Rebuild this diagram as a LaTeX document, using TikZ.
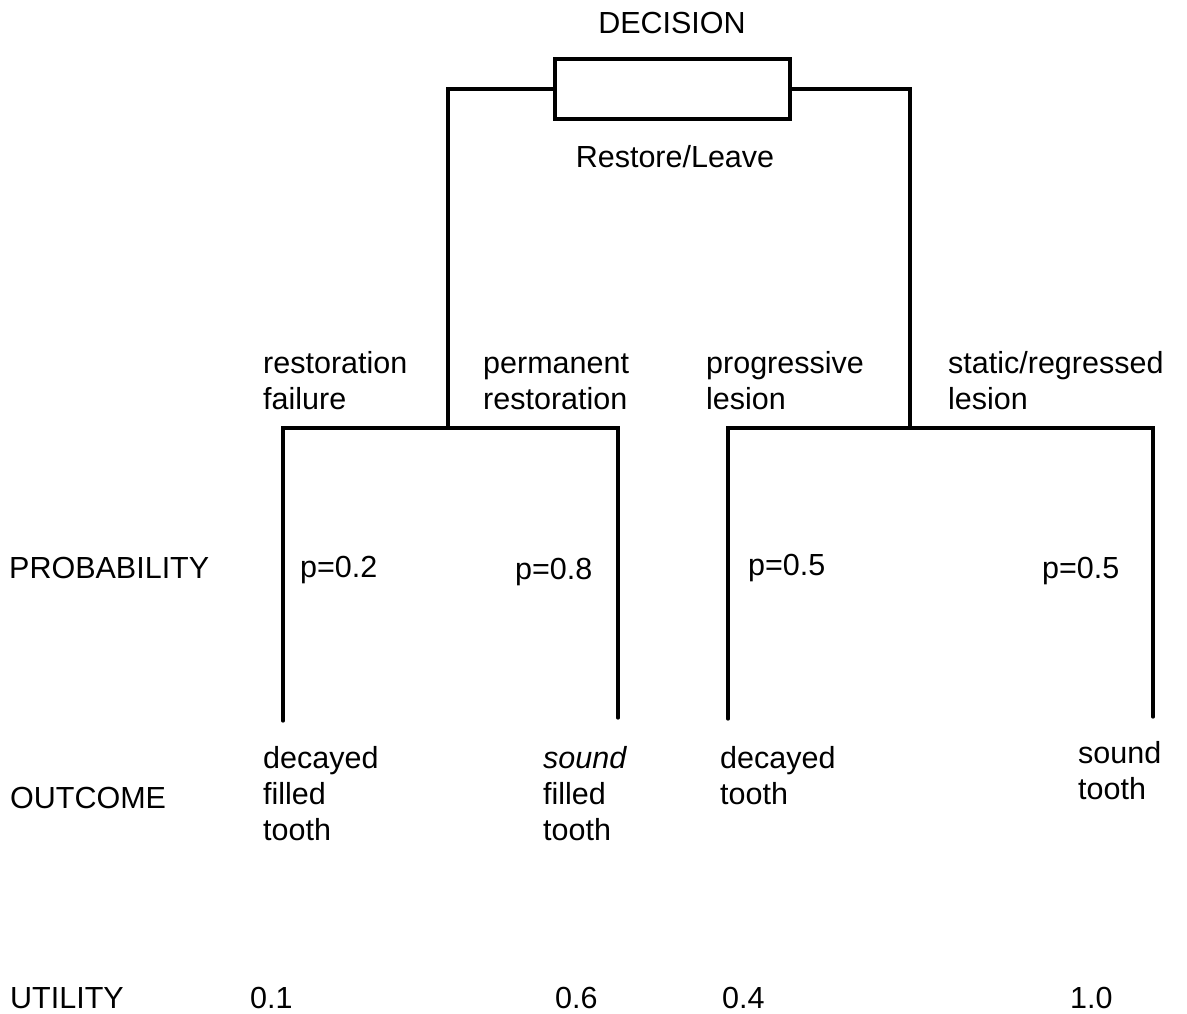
\documentclass[tikz,border=0pt]{standalone}
\usepackage{fontspec}
\setmainfont{Liberation Sans}
\begin{document}
\begin{tikzpicture}[x=1pt,y=-1pt,
  lbl/.style={font=\fontsize{30.5}{36}\selectfont, inner sep=0pt, align=left, anchor=base west},
  branch/.style={line width=3.2pt, line cap=round, line join=miter}]
\useasboundingbox (0,0) rectangle (1187,1013);
% decision box
\node[draw, line width=3.2pt, minimum width=235pt, minimum height=60pt, inner sep=0pt] (dec) at (672.5,89) {};
\node[lbl, anchor=base] (dectitle) at (672,33) {DECISION};
\node[lbl, anchor=base] (declbl) at (675,167) {Restore/Leave};
% junctions
\coordinate (lt) at (448,89);
\coordinate (lj) at (448,428);
\coordinate (rt) at (910,89);
\coordinate (rj) at (910,428);
\coordinate (l1t) at (283,428);
\coordinate (l1b) at (283,721);
\coordinate (l2t) at (618,428);
\coordinate (l2b) at (618,718);
\coordinate (r1t) at (728,428);
\coordinate (r1b) at (728,719);
\coordinate (r2t) at (1153,428);
\coordinate (r2b) at (1153,717);
\draw[branch] (dec.west) -- (lt) -- (lj);
\draw[branch] (dec.east) -- (rt) -- (rj);
\draw[branch] (l1b) -- (l1t) -- (l2t) -- (l2b);
\draw[branch] (r1b) -- (r1t) -- (r2t) -- (r2b);
% branch labels (anchored at baseline of last line)
\node[lbl] (b1) at (263,409) {restoration\\failure};
\node[lbl] (b2) at (483,409) {permanent\\restoration};
\node[lbl] (b3) at (706,409) {progressive\\lesion};
\node[lbl] (b4) at (948,409) {static/regressed\\lesion};
% probabilities
\node[lbl] (prob) at (9,578) {PROBABILITY};
\node[lbl] (p1) at (300,577) {p=0.2};
\node[lbl] (p2) at (515,579) {p=0.8};
\node[lbl] (p3) at (748,575) {p=0.5};
\node[lbl] (p4) at (1042,578) {p=0.5};
% outcomes
\node[lbl] (out) at (10,808) {OUTCOME};
\node[lbl] (o1) at (263,840) {decayed\\filled\\tooth};
\node[lbl] (o2) at (543,840) {\textit{sound}\\filled\\tooth};
\node[lbl] (o3) at (720,804) {decayed\\tooth};
\node[lbl] (o4) at (1078,799) {sound\\tooth};
% utilities
\node[lbl] (util) at (10,1008) {UTILITY};
\node[lbl] (u1) at (250,1008) {0.1};
\node[lbl] (u2) at (555,1008) {0.6};
\node[lbl] (u3) at (722,1008) {0.4};
\node[lbl] (u4) at (1070,1008) {1.0};
\end{tikzpicture}
\end{document}
